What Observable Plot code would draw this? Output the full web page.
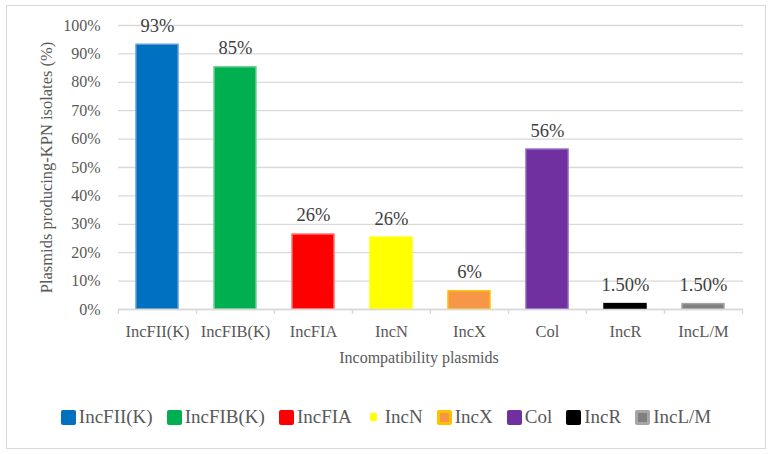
<!DOCTYPE html>
<html><head><meta charset="utf-8">
<script src="https://cdn.jsdelivr.net/npm/d3@7"></script>
<script src="https://cdn.jsdelivr.net/npm/@observablehq/plot@0.6"></script>
<style>
html,body{margin:0;padding:0;background:#fff;}
#wrap{position:relative;width:772px;height:454px;font-family:"Liberation Serif",serif;overflow:hidden;}
#frame{position:absolute;left:6px;top:5px;width:760px;height:444px;border:1px solid #d9d9d9;box-sizing:border-box;}
#chart{position:absolute;left:0;top:0;}
#chart svg, #chart svg text{font-family:"Liberation Serif",serif;}
#legend{position:absolute;top:406px;left:0;width:772px;height:22px;display:flex;justify-content:center;align-items:center;font-size:19px;color:#595959;}
.item{display:flex;align-items:center;margin:0 7px;}
.sw{width:15px;height:15px;border-radius:2px;box-sizing:border-box;margin-right:3px;}
</style></head>
<body>
<div id="wrap"><div id="frame"></div><div id="chart"></div><div id="legend"></div></div>
<script>
const categories = ["IncFII(K)","IncFIB(K)","IncFIA","IncN","IncX","Col","IncR","IncL/M"];
const values = [93.2, 85.3, 26.4, 25.3, 6.4, 56.3, 1.9, 1.9];
const labels = ["93%","85%","26%","26%","6%","56%","1.50%","1.50%"];
const yTicks = [0,10,20,30,40,50,60,70,80,90,100];
const xTitle = "Incompatibility plasmids";
const yTitle = "Plasmids producing-KPN isolates (%)";

const fills = ["#0070C0","#00B050","#FF0000","#FFFF00","#F79646","#7030A0","#000000","#7F7F7F"];
const strokes = ["#5B9BD5","#70D090","#FF7070","#FFFF00","#FFC000","#9060C0","#000000","#A6A6A6"];

const FF = "Liberation Serif";
const W=772, H=372, ML=118, MR=29, MT=25, MB=H-309;
const step=(W-ML-MR)/categories.length;
const data = categories.map((c,i)=>({c, v: values[i], l: labels[i], s: strokes[i]}));
const fmt = d=>d+"%";

const chart = Plot.plot({
  width:W, height:H, marginLeft:ML, marginRight:MR, marginTop:MT, marginBottom:MB,
  style:{fontFamily:FF, fontSize:"16px", color:"#595959", background:"transparent", overflow:"visible"},
  x:{domain:categories, paddingInner:0.46, paddingOuter:0.23, label:null},
  y:{domain:[0,100], label:null},
  color:{domain:categories, range:fills},
  marks:[
    Plot.gridY(yTicks, {stroke:"#d9d9d9", strokeOpacity:1, strokeWidth:1.3}),
    Plot.axisY(yTicks, {tickSize:0, tickPadding:18, tickFormat:fmt, fontSize:16, fontFamily:FF, fill:"#595959", label:null}),
    Plot.axisX({tickSize:0, tickPadding:16, fontSize:16.5, fontFamily:FF, fill:"#595959", label:null}),
    Plot.barY(data,{x:"c", y:"v", fill:"c", stroke:"s", strokeWidth:1.5}),
    Plot.ruleY([0],{stroke:"#d9d9d9", strokeWidth:1.3}),
    Plot.ruleX(categories,{x:d=>d, dx:-step/2, y1:0, y2:0, insetBottom:-5, stroke:"#d9d9d9", strokeWidth:1.3}),
    Plot.ruleX([categories[categories.length-1]],{x:d=>d, dx:step/2, y1:0, y2:0, insetBottom:-5, stroke:"#d9d9d9", strokeWidth:1.3}),
    Plot.text(data,{x:"c", y:"v", text:"l", dy:-19, fontSize:18.5, fontFamily:FF, fill:"#404040"}),
    Plot.text([xTitle],{frameAnchor:"bottom", dy:53, dx:-12, fontSize:16, fontFamily:FF, fill:"#595959"}),
    Plot.text([yTitle],{frameAnchor:"left", rotate:-90, textAnchor:"middle", dx:-72, fontSize:16.5, fontFamily:FF, fill:"#595959"})
  ]
});
document.getElementById("chart").appendChild(chart);

const legend = document.getElementById("legend");
categories.forEach((c,i)=>{
  const it = document.createElement("div"); it.className="item";
  const sw = document.createElement("div"); sw.className="sw";
  if (c==="IncN") { sw.style.width="7px"; sw.style.height="8px"; sw.style.margin="0 8px 0 4px"; sw.style.background=fills[i]; sw.style.borderRadius="1px"; }
  else if (c==="IncX" || c==="IncL/M") { sw.style.background=fills[i]; sw.style.border="3px solid "+strokes[i]; }
  else sw.style.background=fills[i];
  const t = document.createElement("span"); t.textContent=c;
  it.appendChild(sw); it.appendChild(t); legend.appendChild(it);
});
</script>
</body></html>
